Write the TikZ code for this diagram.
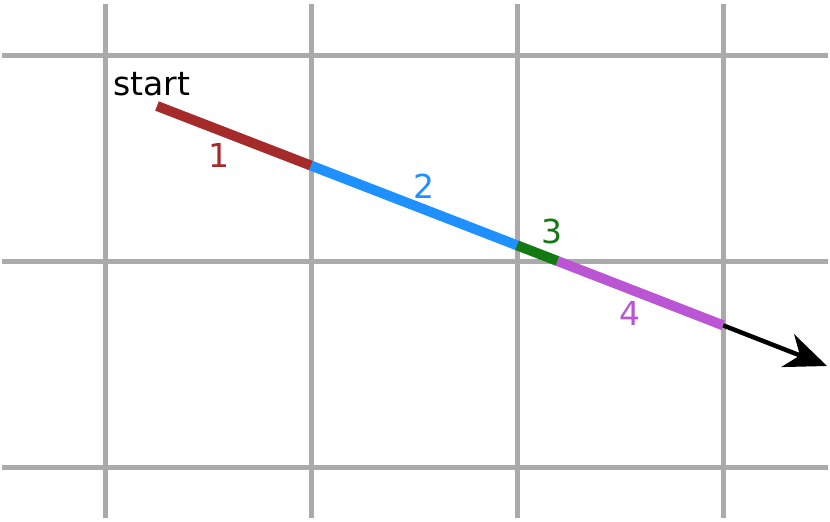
\documentclass[tikz,border=0pt]{standalone}
\usepackage{fontspec}
\setmainfont{DejaVu Sans}
\usetikzlibrary{arrows.meta, calc}
\definecolor{cgrid}{HTML}{AAAAAA}
\definecolor{cred}{HTML}{A52A2A}
\definecolor{cblue}{HTML}{1E90FF}
\definecolor{cgreen}{HTML}{137A13}
\definecolor{cpurple}{HTML}{BA55D3}
\tikzset{
  every picture/.style={x=1pt, y=-1pt, font=\fontsize{33}{40}\selectfont},
  gridline/.style={draw=cgrid, line width=5pt},
  segment/.style={draw=#1, line width=10pt},
  steplabel/.style={text=#1, anchor=base, inner sep=0pt},
  ray/.style={-{Stealth[length=42pt, width=35pt, inset=13pt]}, draw=black, line width=4.5pt},
}

\begin{document}
\begin{tikzpicture}
  \useasboundingbox (0,0) rectangle (830,522);
  \foreach \x in {105,311,517,723} \draw[gridline] (\x,4) -- (\x,518);
  \foreach \y in {55,261,467} \draw[gridline] (2,\y) -- (828,\y);
  % points where the ray crosses the grid
  \coordinate (p0) at (157,106);
  \coordinate (p1) at (311,165.6);
  \coordinate (p2) at (517,245.3);
  \coordinate (p3) at (557.5,261);
  \coordinate (p4) at (723,325.3);
  \coordinate (tip) at (827,366);
  \draw[ray] (p4) -- (tip);
  \foreach \a/\b/\c in {p0/p1/cred, p1/p2/cblue, p2/p3/cgreen, p3/p4/cpurple}
    \draw[segment=\c] (\a) -- (\b);
  \node[steplabel=black] (start) at (152,95) {start};
  \node[steplabel=cred] (l1) at (219,167) {1};
  \node[steplabel=cblue] (l2) at (424,198) {2};
  \node[steplabel=cgreen] (l3) at (552,243) {3};
  \node[steplabel=cpurple] (l4) at (630,325) {4};
\end{tikzpicture}
\end{document}
